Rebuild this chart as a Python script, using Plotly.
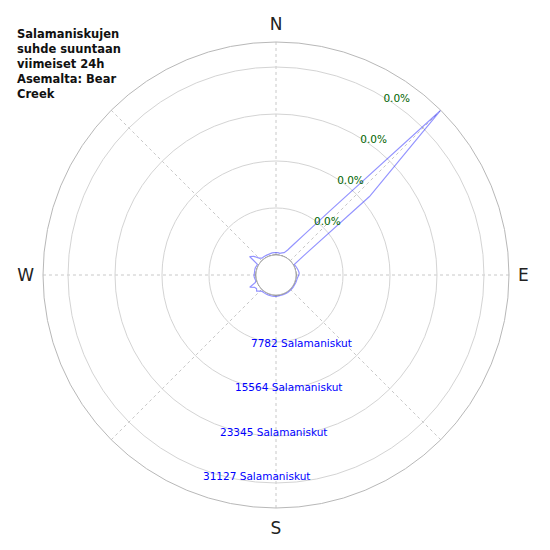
import plotly.graph_objects as go

# lightning strikes per direction (5 degree bins), counts
bearing = list(range(0, 360, 5))
strikes = [
    390, 390, 310, 470, 620, 1250, 2570, 4900, 10430, 35270,
    16890, 2410, 160, 230, 310, 390, 470, 540, 470, 310,
    230, 200, 200, 160, 160, 160, 160, 160, 160, 160,
    160, 160, 160, 160, 160, 200, 230, 230, 230, 230,
    230, 230, 230, 230, 230, 470, 860, 620, 780, 1480,
    310, 160, 230, 310, 310, 270, 270, 310, 310, 230,
    230, 2020, 1480, 620, 310, 310, 310, 310, 310, 350, 390, 390,
]

rticks = [7782, 15564, 23345, 31127]
rtick_text = ["0.0%", "0.0%", "0.0%", "0.0%"]
compass = ["N", "", "E", "", "S", "", "W", ""]
count_labels = ["7782 Salamaniskut", "15564 Salamaniskut",
                "23345 Salamaniskut", "31127 Salamaniskut"]
title_lines = ["Salamaniskujen", "suhde suuntaan", "viimeiset 24h",
               "Asemalta: Bear", "Creek"]

rmax = 35270

fig = go.Figure()

# line around the data, closed back to the start
fig.add_trace(go.Scatterpolar(
    r=strikes + strikes[:1],
    theta=bearing + bearing[:1],
    mode="lines",
    line=dict(color="rgba(0,0,255,0.42)", width=1.2),
    hoverinfo="skip",
))

# black circle on the edge of the hole
fig.add_trace(go.Scatterpolar(
    r=[0] * 73,
    theta=list(range(0, 365, 5)),
    mode="lines",
    line=dict(color="#333333", width=1),
    hoverinfo="skip",
))

# page body has an 8px margin, so the margins are shifted to compensate
fig.update_layout(
    width=550,
    height=550,
    margin=dict(l=35, r=49, t=34, b=50, autoexpand=False),
    paper_bgcolor="white",
    showlegend=False,
    font=dict(family="DejaVu Sans"),
    polar=dict(
        bgcolor="white",
        hole=0.086,
        angularaxis=dict(
            rotation=90,
            direction="clockwise",
            tickmode="array",
            tickvals=list(range(0, 360, 45)),
            ticktext=compass,
            tickfont=dict(size=17, color="#222222"),
            ticks="outside",
            ticklen=5,
            tickcolor="rgba(0,0,0,0)",
            showline=True,
            linecolor="#b8b8b8",
            linewidth=1,
            gridcolor="#c8c8c8",
            griddash="dot",
            gridwidth=1,
        ),
        radialaxis=dict(
            range=[0, rmax],
            angle=60.5,
            tickangle=60.5,
            side="clockwise",
            tickmode="array",
            tickvals=rticks,
            ticktext=rtick_text,
            tickfont=dict(size=10.5, color="darkgreen"),
            showline=False,
            ticks="",
            gridcolor="#d4d4d4",
            gridwidth=1,
        ),
    ),
)

# count labels below the centre (positions in screen px of the reference)
label_x = [301, 288, 273, 256]
label_y = [343, 387, 432, 476]
for txt, px, py in zip(count_labels, label_x, label_y):
    fig.add_annotation(
        text=txt,
        xref="paper", yref="paper",
        x=(px - 43) / 466, y=(508 - py) / 466,
        xanchor="center", yanchor="middle",
        showarrow=False,
        font=dict(size=10.5, color="blue"),
    )

fig.add_annotation(
    text="<br>".join("<b>%s</b>" % t for t in title_lines),
    xref="paper", yref="paper",
    x=(15 - 43) / 466, y=(508 - 25) / 466,
    xanchor="left", yanchor="top", align="left",
    showarrow=False,
    font=dict(size=11.5, color="#111111"),
)

fig.write_html("out.html")
